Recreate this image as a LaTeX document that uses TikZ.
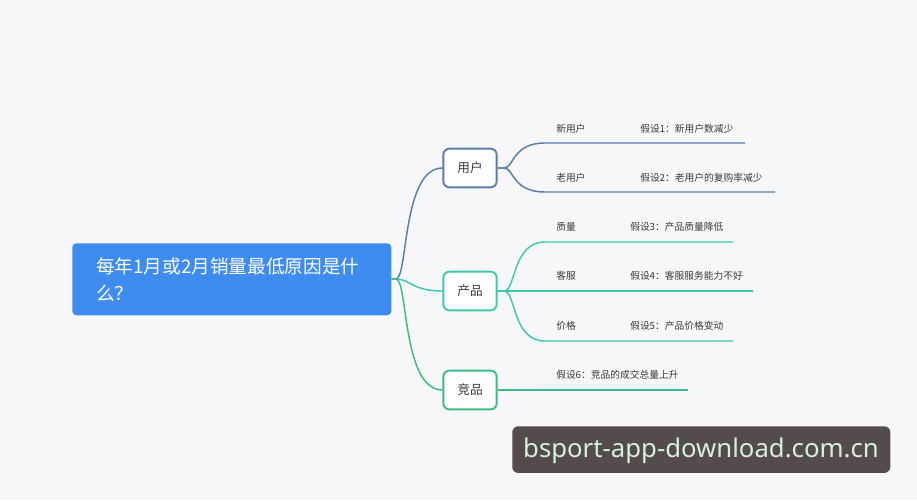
\documentclass[tikz,border=0pt]{standalone}
\usepackage{fontspec}
\setmainfont{Noto Sans CJK SC}
\newfontfamily\wmfont{Noto Sans}
\definecolor{bgc}{HTML}{F7F6F8}
\definecolor{rootc}{HTML}{3F8CF0}
\definecolor{userc}{HTML}{5A7FAA}
\definecolor{prodc}{HTML}{3CC9AC}
\definecolor{compc}{HTML}{3DBB87}
\definecolor{txtc}{HTML}{3A3A3A}
\definecolor{wmbg}{HTML}{544C4C}
\definecolor{wmtx}{HTML}{D6F0DA}
\tikzset{
  rootbox/.style={fill=rootc, rounded corners=3pt, inner sep=0pt},
  catbox/.style={draw=#1, line width=1.4pt, fill=white, rounded corners=4.5pt, minimum width=40pt, minimum height=29pt, inner sep=0pt, font=\fontsize{9.5}{11}\selectfont, text=txtc},
  lbl/.style={anchor=west, font=\fontsize{7.3}{9}\selectfont, text=txtc, inner sep=0pt},
  branch/.style={draw=#1, line width=1.1pt},
}
\begin{document}
\begin{tikzpicture}[x=0.75pt,y=-0.75pt]
\fill[bgc] (0,0) rectangle (917,500);
\useasboundingbox (0,0) rectangle (917,500);
% root
\node[rootbox, minimum width=239.25pt, minimum height=54pt, anchor=north west] (root) at (72,243) {};
\node[anchor=north west, inner sep=0pt, text=white, align=left, font=\fontsize{14}{20.5}\selectfont] (roottext) at (96,257) {每年1月或2月销量最低原因是什\\么？};
% categories
\node[catbox=userc] (user) at (470,168) {用户};
\node[catbox=prodc] (prod) at (470,291) {产品};
\node[catbox=compc] (comp) at (470,390) {竞品};
% root connectors
\coordinate (rs) at (root.east |- 0,279);
\draw[branch=userc] (rs) -- (396,279) .. controls (408,279) and (402,168) .. (user.west);
\draw[branch=prodc] (rs) -- (396,279) .. controls (410,279) and (412,291) .. (prod.west);
\draw[branch=compc] (rs) -- (396,279) .. controls (408,279) and (402,390) .. (comp.west);
% user branches
\coordinate (u1) at (545,143); \coordinate (u1e) at (745,143);
\coordinate (u2) at (545,192); \coordinate (u2e) at (775,192);
\draw[branch=userc] (user.east) -- (504,168) .. controls (514,168) and (512,143) .. (u1) -- (u1e);
\draw[branch=userc] (user.east) -- (504,168) .. controls (514,168) and (512,192) .. (u2) -- (u2e);
\node[lbl] (l1) at (556,129) {新用户};
\node[lbl] (h1) at (640,129) {假设1：新用户数减少};
\node[lbl] (l2) at (556,178) {老用户};
\node[lbl] (h2) at (640,178) {假设2：老用户的复购率减少};
% product branches
\coordinate (p1) at (545,242); \coordinate (p1e) at (733,242);
\coordinate (p2e) at (753,291);
\coordinate (p3) at (545,341); \coordinate (p3e) at (733,341);
\draw[branch=prodc] (prod.east) -- (504,291) .. controls (516,291) and (512,242) .. (p1) -- (p1e);
\draw[branch=prodc] (prod.east) -- (p2e);
\draw[branch=prodc] (prod.east) -- (504,291) .. controls (516,291) and (512,341) .. (p3) -- (p3e);
\node[lbl] (l3) at (556,227) {质量};
\node[lbl] (h3) at (630,227) {假设3：产品质量降低};
\node[lbl] (l4) at (556,276) {客服};
\node[lbl] (h4) at (630,276) {假设4：客服服务能力不好};
\node[lbl] (l5) at (556,326) {价格};
\node[lbl] (h5) at (630,326) {假设5：产品价格变动};
% competitor branch
\coordinate (c1e) at (688,390);
\draw[branch=compc] (comp.east) -- (c1e);
\node[lbl] (h6) at (556,375) {假设6：竞品的成交总量上升};
% watermark
\node[fill=wmbg, rounded corners=4.5pt, minimum width=283.5pt, minimum height=35pt, inner sep=0pt, anchor=north west] (wm) at (512,426) {};
\node[text=wmtx, font=\wmfont\fontsize{19.3}{22}\selectfont, inner sep=0pt] (wmt) at (701,451) {bsport-app-download.com.cn};
\end{tikzpicture}
\end{document}
